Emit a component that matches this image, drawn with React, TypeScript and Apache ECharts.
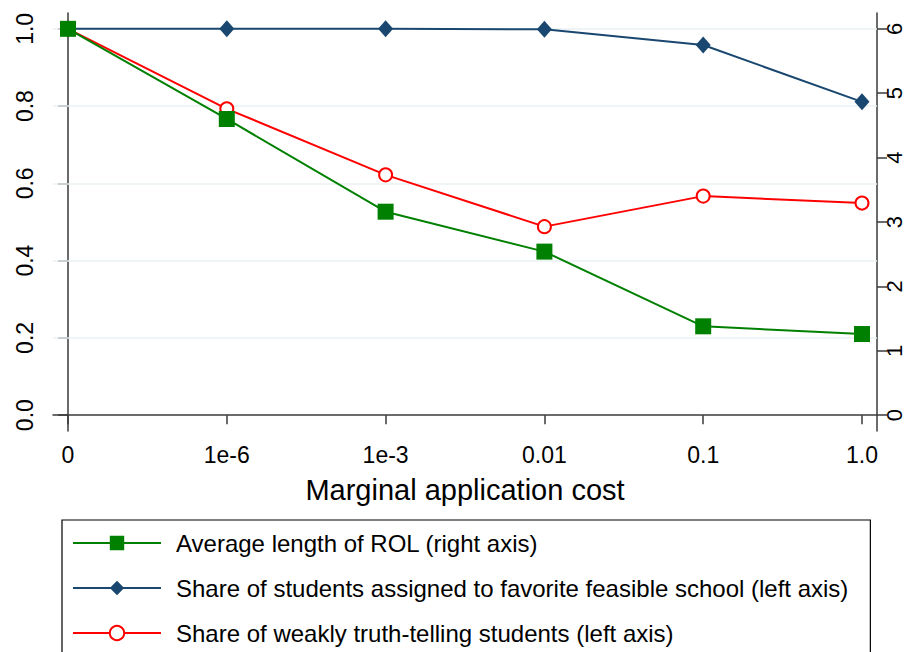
import React, { useEffect, useRef } from "react";
import * as echarts from "echarts";

const categories = ["0", "1e-6", "1e-3", "0.01", "0.1", "1.0"];
const rolLength = [6.0, 4.6, 3.16, 2.54, 1.38, 1.26];
const favoriteShare = [1.0, 1.0, 1.0, 0.999, 0.958, 0.811];
const truthShare = [1.0, 0.793, 0.622, 0.488, 0.567, 0.549];
const leftTicks = [0, 0.2, 0.4, 0.6, 0.8, 1.0];
const rightTicks = [0, 1, 2, 3, 4, 5, 6];
const gridValues = [0.2, 0.4, 0.6, 0.8, 1.0];

const names = [
  "Average length of ROL (right axis)",
  "Share of students assigned to favorite feasible school (left axis)",
  "Share of weakly truth-telling students (left axis)",
];

const FONT = "Arial, 'Liberation Sans', Helvetica, sans-serif";
const AXIS_COLOR = "#3a3a3a";

export default function App() {
  const ref = useRef<HTMLDivElement>(null);
  useEffect(() => {
    if (!ref.current) return;
    const chart = echarts.init(ref.current, null, { renderer: "svg" });
    const idx = categories.map((_, i) => i);
    const toPts = (arr: number[]) => arr.map((v, i) => [i, v]);
    chart.setOption({
      animation: false,
      textStyle: { fontFamily: FONT },
      grid: {
        left: 53,
        right: 32,
        top: 13,
        bottom: 221,
        containLabel: false,
        outerBoundsMode: "none",
      },
      xAxis: {
        type: "value",
        min: -0.0945,
        max: 5.0945,
        name: "Marginal application cost",
        nameLocation: "middle",
        nameGap: 44,
        nameTextStyle: { fontSize: 29, color: "#000", fontFamily: FONT },
        axisLine: { show: true, lineStyle: { color: AXIS_COLOR, width: 1.5 } },
        axisTick: {
          show: true,
          customValues: idx,
          length: 9,
          lineStyle: { color: AXIS_COLOR, width: 1.5 },
        },
        axisLabel: {
          customValues: idx,
          formatter: (v: number) => categories[Math.round(v)],
          fontSize: 23,
          color: "#000",
          margin: 12,
          fontFamily: FONT,
        },
        splitLine: { show: false },
      },
      yAxis: [
        {
          type: "value",
          position: "left",
          min: -0.041,
          max: 1.041,
          axisLine: { show: true, lineStyle: { color: AXIS_COLOR, width: 1.5 } },
          axisTick: {
            show: true,
            customValues: leftTicks,
            length: 10,
            lineStyle: { color: AXIS_COLOR, width: 1.5 },
          },
          axisLabel: {
            customValues: leftTicks,
            formatter: (v: number) => v.toFixed(1),
            rotate: 90,
            fontSize: 23,
            color: "#000",
            margin: 17,
            fontFamily: FONT,
          },
          splitLine: { show: false },
        },
        {
          type: "value",
          position: "right",
          min: -0.246,
          max: 6.246,
          axisLine: { show: true, lineStyle: { color: AXIS_COLOR, width: 1.5 } },
          axisTick: {
            show: true,
            customValues: rightTicks,
            length: 10,
            lineStyle: { color: AXIS_COLOR, width: 1.5 },
          },
          axisLabel: {
            customValues: rightTicks,
            formatter: (v: number) => String(v),
            rotate: 90,
            fontSize: 22,
            lineHeight: 20,
            color: "#000",
            margin: 7,
            fontFamily: FONT,
          },
          splitLine: { show: false },
        },
      ],
      legend: {
        data: names,
        orient: "vertical",
        left: 62,
        top: 520,
        height: 300,
        padding: [10, 22, 10, 10],
        itemWidth: 88,
        itemHeight: 18,
        itemGap: 19,
        borderColor: "#000",
        borderWidth: 1.2,
        borderRadius: 0,
        backgroundColor: "#fff",
        selectedMode: false,
        textStyle: {
          fontSize: 24,
          lineHeight: 26,
          color: "#000",
          fontFamily: FONT,
          padding: [0, 0, 0, 10],
        },
      },
      series: [
        {
          type: "line",
          name: "gridlines",
          data: [],
          yAxisIndex: 0,
          z: 1,
          silent: true,
          markLine: {
            z: 1,
            silent: true,
            symbol: ["none", "none"],
            label: { show: false },
            lineStyle: { color: "#eaf2f3", width: 1.5, type: "solid" },
            emphasis: { disabled: true },
            data: gridValues.map((v) => ({ yAxis: v })),
          },
        },
        {
          type: "line",
          name: names[2],
          data: toPts(truthShare),
          yAxisIndex: 0,
          z: 2,
          symbol: "emptyCircle",
          symbolSize: 13,
          showAllSymbol: true,
          lineStyle: { color: "#ff0000", width: 2 },
          itemStyle: { color: "#ff0000", borderColor: "#ff0000", borderWidth: 2 },
          emphasis: { disabled: true },
        },
        {
          type: "line",
          name: names[1],
          data: toPts(favoriteShare),
          yAxisIndex: 0,
          z: 3,
          symbol: "diamond",
          symbolSize: [15, 17],
          lineStyle: { color: "#1a476f", width: 2 },
          itemStyle: { color: "#1a476f" },
          emphasis: { disabled: true },
        },
        {
          type: "line",
          name: names[0],
          data: toPts(rolLength),
          yAxisIndex: 1,
          z: 4,
          symbol: "rect",
          symbolSize: 16,
          lineStyle: { color: "#008000", width: 2 },
          itemStyle: { color: "#008000" },
          emphasis: { disabled: true },
        },
      ],
    });
    return () => chart.dispose();
  }, []);
  return (
    <div
      ref={ref}
      style={{ position: "absolute", left: 0, top: 0, width: 909, height: 652 }}
    />
  );
}
